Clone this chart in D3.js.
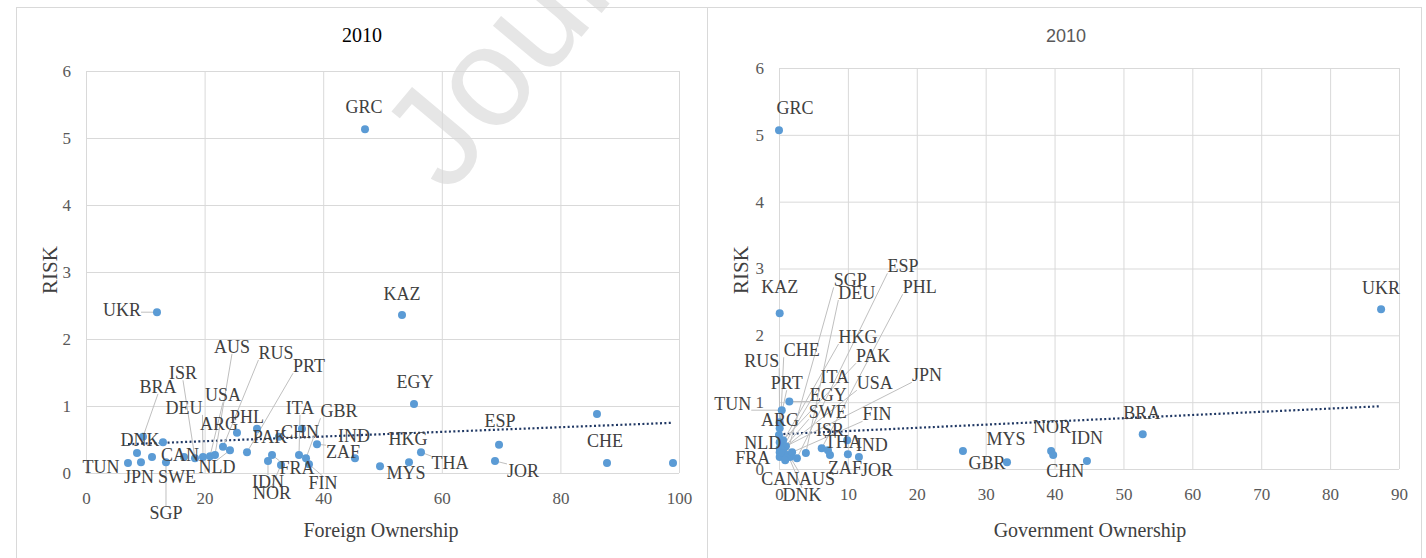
<!DOCTYPE html>
<html>
<head>
<meta charset="utf-8">
<script src="https://cdn.jsdelivr.net/npm/d3@7"></script>
<style>
  body { margin: 0; background: #fff; }
  svg { display: block; }
</style>
</head>
<body>
<script>
// ---- data ----
const riskTicks = [0, 1, 2, 3, 4, 5, 6];
const foreignTicks = [0, 20, 40, 60, 80, 100];
const govTicks = [0, 10, 20, 30, 40, 50, 60, 70, 80, 90];

// left panel: foreign ownership vs risk ("" = dot without label)
const foreignCodes = ["TUN", "", "JPN", "BRA", "SWE", "UKR", "DNK", "SGP", "CAN", "ISR", "DEU", "USA", "AUS", "RUS", "NLD", "ARG", "PRT", "PHL", "IDN", "FRA", "PAK", "NOR", "ITA", "CHN", "GBR", "FIN", "ZAF", "IND", "GRC", "MYS", "KAZ", "HKG", "EGY", "THA", "JOR", "ESP", "", "CHE", ""];
const foreignShare = [7.08, 8.6, 9.27, 9.61, 11.13, 11.97, 12.98, 13.49, 16.53, 18.38, 19.73, 20.91, 21.75, 23.1, 24.28, 25.46, 27.15, 28.84, 30.69, 31.37, 32.55, 32.88, 35.92, 36.42, 37.1, 37.6, 38.95, 45.36, 47.05, 49.58, 53.29, 54.47, 55.31, 56.49, 68.97, 69.65, 86.17, 87.86, 98.99];
const foreignRisk = [0.15, 0.30, 0.16, 0.54, 0.24, 2.40, 0.46, 0.16, 0.24, 0.22, 0.24, 0.25, 0.27, 0.39, 0.34, 0.60, 0.31, 0.66, 0.18, 0.27, 0.54, 0.12, 0.27, 0.66, 0.22, 0.13, 0.43, 0.22, 5.13, 0.10, 2.36, 0.16, 1.03, 0.31, 0.18, 0.42, 0.88, 0.15, 0.15];
const foreignTrend = [0.405, 0.00348]; // intercept, slope

// right panel: government ownership vs risk
const govCodes = ["GRC", "KAZ", "UKR", "EGY", "TUN", "PRT", "RUS", "ARG", "CHE", "HKG", "PAK", "NLD", "USA", "JPN", "SWE", "ITA", "FRA", "CAN", "DNK", "AUS", "SGP", "FIN", "ESP", "DEU", "PHL", "ISR", "ZAF", "THA", "IND", "JOR", "GBR", "MYS", "NOR", "CHN", "IDN", "BRA"];
const govShare = [0.0, 0.1, 87.4, 1.5, 0.4, 0.1, 0.1, 0.0, 0.1, 0.3, 0.6, 0.1, 0.7, 1.0, 0.4, 0.1, 0.1, 0.6, 1.3, 1.6, 0.9, 1.9, 2.6, 3.9, 6.2, 7.1, 7.4, 9.9, 10.0, 11.6, 26.7, 33.1, 39.5, 39.8, 44.7, 52.8];
const govRisk = [5.07, 2.33, 2.39, 1.01, 0.88, 0.70, 0.61, 0.51, 0.40, 0.36, 0.43, 0.31, 0.31, 0.34, 0.28, 0.25, 0.18, 0.24, 0.21, 0.18, 0.13, 0.25, 0.16, 0.24, 0.31, 0.28, 0.21, 0.43, 0.22, 0.18, 0.27, 0.10, 0.27, 0.21, 0.12, 0.52];
const govTrend = [0.52, 0.0048];

// ---- label placement (pixel offset from the dot, leader line flag) ----
const foreignLabelPos = {
  TUN: [-27, 4, 0], JPN: [-2, 15, 0], BRA: [15, -50, 1], SWE: [25, 20, 0], UKR: [-35, -2, 1],
  DNK: [-23, -2, 1], SGP: [0, 51, 1], CAN: [-4, -2, 0], ISR: [-12, -85, 1], DEU: [-19, -49, 1],
  USA: [13, -61, 1], AUS: [17, -108, 1], RUS: [53, -94, 1], NLD: [-13, 17, 1], ARG: [-18, -9, 0],
  PRT: [62, -86, 1], PHL: [-10, -12, 0], IDN: [0, 21, 1], FRA: [25, 13, 1], PAK: [-9, 0, 0],
  NOR: [-9, 28, 1], ITA: [1, -47, 1], CHN: [-2, 3, 0], GBR: [33, -47, 1], FIN: [14, 19, 1],
  ZAF: [26, 8, 1], IND: [-1, -22, 0], GRC: [-1, -22, 0], MYS: [26, 7, 0], KAZ: [0, -21, 0],
  HKG: [-1, -23, 0], EGY: [1, -22, 0], THA: [29, 11, 1], JOR: [28, 10, 1], ESP: [1, -24, 0],
  CHE: [-2, -22, 0]
};
const govLabelPos = {
  GRC: [16, -22, 0], KAZ: [0, -26, 0], UKR: [0, -21, 0], EGY: [39, -6, 1], TUN: [-49, -6, 1],
  PRT: [7, -39, 1], RUS: [-18, -67, 1], ARG: [1, -15, 0], CHE: [22, -92, 1], NLD: [-17, -5, 0],
  FRA: [-27, 1, 0], CAN: [-3, 26, 0], DNK: [14, 40, 1], AUS: [27, 22, 1], SGP: [65, -180, 1],
  ESP: [106, -192, 1], DEU: [51, -160, 1], PHL: [98, -161, 1], ISR: [2, -20, 0], ZAF: [15, 13, 0],
  THA: [-4, 2, 0], IND: [24, -9, 0], JOR: [18, 13, 0], HKG: [77, -108, 1], PAK: [90, -84, 1],
  ITA: [55, -75, 1], USA: [91, -65, 1], JPN: [141, -71, 1], SWE: [46, -38, 1], FIN: [85, -38, 1],
  GBR: [24, 12, 0], MYS: [-1, -23, 0], NOR: [1, -24, 0], CHN: [12, 16, 0], IDN: [0, -23, 0],
  BRA: [-1, -21, 0]
};

const W = 1426, H = 558;
const serif = "'Liberation Serif', 'Times New Roman', serif";

const svg = d3.select('body').append('svg')
  .attr('width', W)
  .attr('height', H);

// watermark behind the charts
svg.append('text')
  .attr('transform', 'translate(448,196) rotate(-50)')
  .style('font-family', "'Liberation Sans', Arial, sans-serif")
  .style('font-size', '142px')
  .style('fill', '#e6e6e6')
  .text('Journal Pre-proof');

// panel frames
svg.append('rect').attr('x', 16.5).attr('y', 7.5).attr('width', 691).attr('height', 570)
  .attr('fill', 'none').attr('stroke', '#d9d9d9');
svg.append('rect').attr('x', 707.5).attr('y', 7.5).attr('width', 714).attr('height', 570)
  .attr('fill', 'none').attr('stroke', '#d9d9d9');

function drawPanel(p) {
  const x = d3.scaleLinear().domain(p.xDomain).range(p.xRange);
  const y = d3.scaleLinear().domain([0, 6]).range(p.yRange);
  const g = svg.append('g');

  // grid
  g.append('g')
    .attr('transform', `translate(0, ${p.yRange[0]})`)
    .call(d3.axisBottom(x).tickValues(p.xTicks).tickSize(p.yRange[1] - p.yRange[0]).tickFormat(''))
    .call(a => a.select('.domain').remove())
    .call(a => a.selectAll('line').attr('stroke', '#d9d9d9'));
  g.append('g')
    .attr('transform', `translate(${p.xRange[0]}, 0)`)
    .call(d3.axisRight(y).tickValues(riskTicks).tickSize(p.xRange[1] - p.xRange[0]).tickFormat(''))
    .call(a => a.select('.domain').remove())
    .call(a => a.selectAll('line').attr('stroke', '#d9d9d9'));

  // tick labels
  g.append('g')
    .attr('transform', `translate(0, ${p.yRange[0] + 16})`)
    .call(d3.axisBottom(x).tickValues(p.xTicks).tickSize(0).tickFormat(d3.format('d')))
    .call(a => a.select('.domain').remove())
    .call(a => a.selectAll('text').attr('fill', '#595959')
      .style('font-family', serif).style('font-size', '17px'));
  g.append('g')
    .attr('transform', `translate(${p.xRange[0] - 12}, 0)`)
    .call(d3.axisLeft(y).tickValues(riskTicks).tickSize(0).tickFormat(d3.format('d')))
    .call(a => a.select('.domain').remove())
    .call(a => a.selectAll('text').attr('fill', '#595959')
      .style('font-family', serif).style('font-size', '17px'));

  // trend line
  const xs = d3.extent(p.xs);
  const tx = p.trendFrom0 ? [0, xs[1]] : xs;
  g.append('line')
    .attr('x1', x(tx[0])).attr('y1', y(p.trend[0] + p.trend[1] * tx[0]))
    .attr('x2', x(tx[1])).attr('y2', y(p.trend[0] + p.trend[1] * tx[1]))
    .attr('stroke', '#203864').attr('stroke-width', 2.2)
    .attr('stroke-dasharray', '2 2.4');

  const pts = p.codes.map((c, i) => ({ code: c, px: x(p.xs[i]), py: y(p.ys[i]) }));

  // labels first so leaders can use their boxes
  const lg = g.append('g');
  const leaders = g.append('g');
  pts.forEach(d => {
    const pos = p.labelPos[d.code];
    if (!d.code || !pos) return;
    const t = lg.append('text')
      .attr('x', d.px + pos[0]).attr('y', d.py + pos[1])
      .attr('text-anchor', 'middle').attr('dominant-baseline', 'central')
      .attr('fill', '#404040')
      .style('font-family', serif).style('font-size', '18px')
      .text(d.code);
    if (pos[2]) {
      const b = t.node().getBBox();
      const top = b.y + 3, bot = b.y + b.height - 3;
      let ex, ey;
      if (d.px < b.x) { ex = b.x; } else if (d.px > b.x + b.width) { ex = b.x + b.width; } else { ex = d.px; }
      if (d.py < top) { ey = top; } else if (d.py > bot) { ey = bot; } else { ey = d.py; }
      if (ex === d.px && ey !== d.py) { ex = b.x + b.width / 2; }
      leaders.append('line')
        .attr('x1', d.px).attr('y1', d.py).attr('x2', ex).attr('y2', ey)
        .attr('stroke', '#bfbfbf').attr('stroke-width', 1);
    }
  });

  g.append('g').selectAll('circle')
    .data(pts)
    .join('circle')
    .attr('cx', d => d.px).attr('cy', d => d.py).attr('r', 4)
    .attr('fill', '#5b9bd5');
  lg.raise();

  // titles
  svg.append('text')
    .attr('x', p.titleX).attr('y', 42).attr('text-anchor', 'middle')
    .attr('fill', p.titleColor)
    .style('font-family', p.titleFont).style('font-size', p.titleSize)
    .text('2010');
  svg.append('text')
    .attr('transform', `translate(${p.yLabelX}, 270) rotate(-90)`)
    .attr('text-anchor', 'middle').attr('dominant-baseline', 'central')
    .attr('fill', '#404040')
    .style('font-family', serif).style('font-size', '21px')
    .text('RISK');
  svg.append('text')
    .attr('x', p.xLabelX).attr('y', 537).attr('text-anchor', 'middle')
    .attr('fill', '#404040')
    .style('font-family', serif).style('font-size', '20px')
    .text(p.xLabel);
}

drawPanel({
  xDomain: [0, 100], xRange: [86, 679], yRange: [473, 71],
  xTicks: foreignTicks, codes: foreignCodes, xs: foreignShare, ys: foreignRisk,
  trend: foreignTrend, trendFrom0: false, labelPos: foreignLabelPos,
  titleX: 362, titleColor: '#000', titleFont: serif, titleSize: '20px',
  yLabelX: 50, xLabelX: 381, xLabel: 'Foreign Ownership'
});

drawPanel({
  xDomain: [0, 90], xRange: [779, 1399], yRange: [469, 68],
  xTicks: govTicks, codes: govCodes, xs: govShare, ys: govRisk,
  trend: govTrend, trendFrom0: true, labelPos: govLabelPos,
  titleX: 1066, titleColor: '#595959', titleFont: "'Liberation Sans Narrow', 'Liberation Sans', Arial, sans-serif", titleSize: '18px',
  yLabelX: 741, xLabelX: 1090, xLabel: 'Government Ownership'
});
</script>
</body>
</html>
